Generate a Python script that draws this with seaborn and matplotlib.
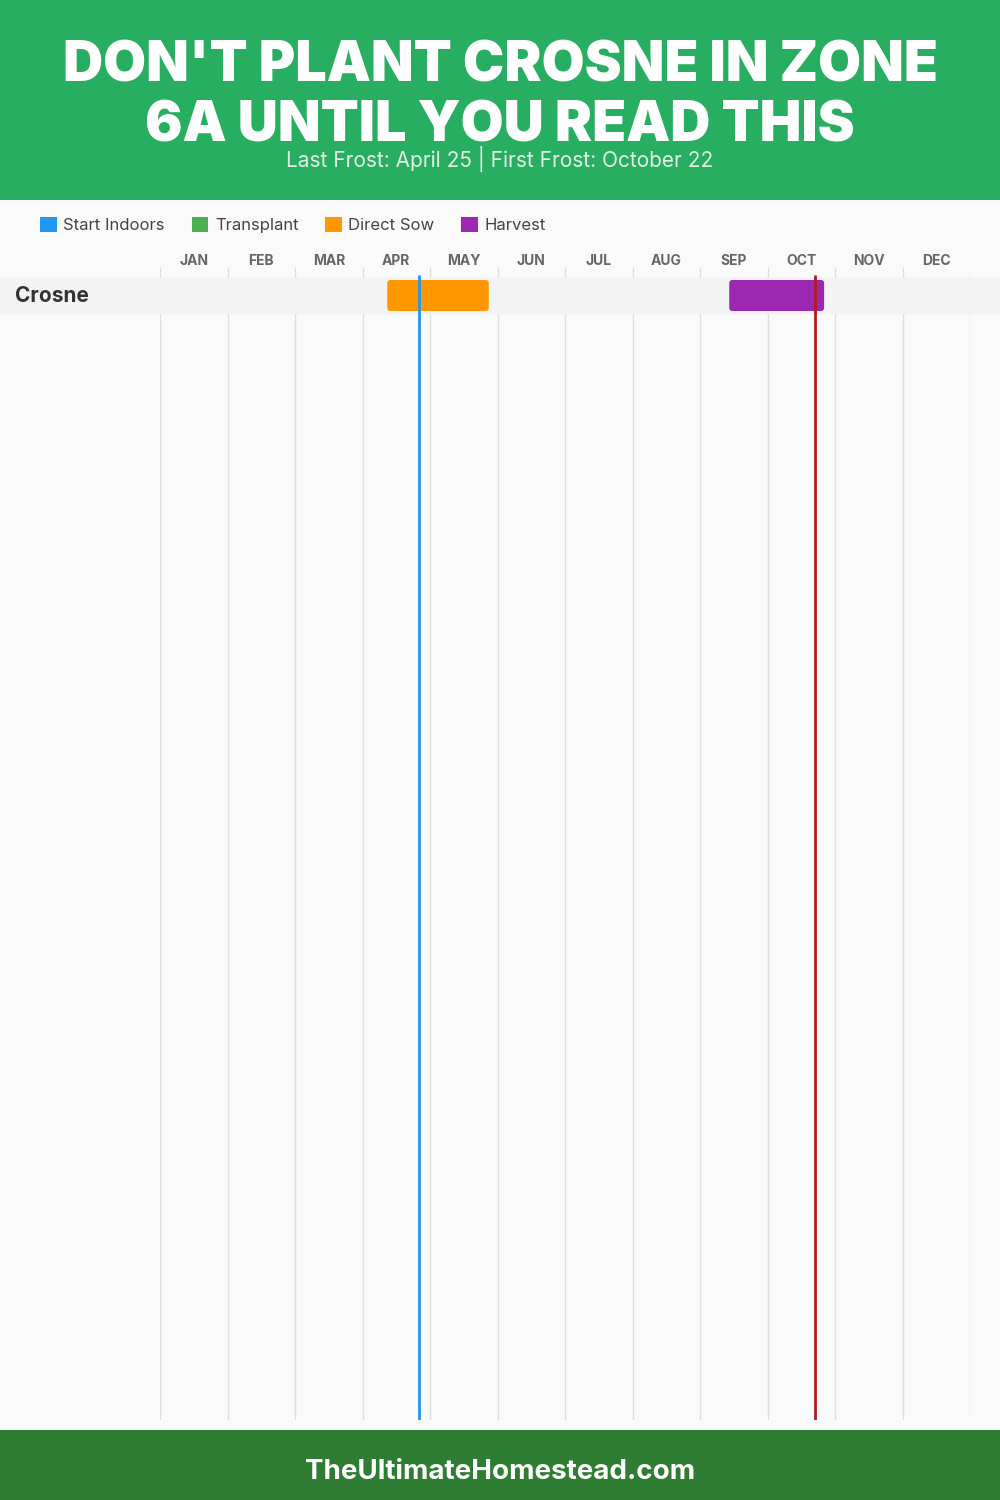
import matplotlib
matplotlib.use("Agg")
import matplotlib.pyplot as plt
import seaborn as sns
import pandas as pd
from matplotlib.patches import FancyBboxPatch, Patch, Rectangle

TITLE_LINES = ["DON'T PLANT CROSNE IN ZONE", "6A UNTIL YOU READ THIS"]
SUBTITLE = "Last Frost: April 25 | First Frost: October 22"
FOOTER = "TheUltimateHomestead.com"

months = ["JAN", "FEB", "MAR", "APR", "MAY", "JUN",
          "JUL", "AUG", "SEP", "OCT", "NOV", "DEC"]
days_in_month = [31, 28, 31, 30, 31, 30, 31, 31, 30, 31, 30, 31]

legend_labels = ["Start Indoors", "Transplant", "Direct Sow", "Harvest"]
legend_colors = ["#2196f3", "#4caf50", "#ff9800", "#9c27b0"]

# crop schedule: (crop, activity, start month, start day, end month, end day)
crops = ["Crosne"]
activity = ["Direct Sow", "Harvest"]
start_month = [4, 9]
start_day = [11, 13]
end_month = [5, 10]
end_day = [27, 26]

last_frost = (4, 25)
first_frost = (10, 22)


def to_pos(month, day):
    # month index (1-12) + day -> continuous month position 0..12
    return (month - 1) + day / days_in_month[month - 1]


schedule = pd.DataFrame({
    "crop": ["Crosne", "Crosne"],
    "activity": activity,
    "start": [to_pos(m, d) for m, d in zip(start_month, start_day)],
    "end": [to_pos(m, d) for m, d in zip(end_month, end_day)],
})

sns.set_theme(style="white")
plt.rcParams["font.family"] = ["Inter", "DejaVu Sans"]

W, H = 1000, 1500
fig = plt.figure(figsize=(10, 15), dpi=100)
fig.patch.set_facecolor("#fafafa")

# header and footer bands
fig.patches.append(Rectangle((0, 1 - 200 / H), 1, 200 / H, transform=fig.transFigure,
                             facecolor="#27ae60", edgecolor="none", zorder=0))
fig.patches.append(Rectangle((0, 0), 1, 70 / H, transform=fig.transFigure,
                             facecolor="#2e7d32", edgecolor="none", zorder=0))

fig.text(0.5, 1 - 66 / H, TITLE_LINES[0], ha="center", va="center", color="white",
         fontsize=40, fontweight="black")
fig.text(0.5, 1 - 126 / H, TITLE_LINES[1], ha="center", va="center", color="white",
         fontsize=40, fontweight="black")
fig.text(0.5, 1 - 159 / H, SUBTITLE, ha="center", va="center", color="#e3f1e6",
         fontsize=15)
fig.text(0.5, 1 - 1472 / H, FOOTER, ha="center", va="center", color="white",
         fontsize=20, fontweight="bold")

# chart area
ax_left, ax_right = 160, 970
ax_top, ax_bottom = 267, 1420
ax = fig.add_axes([ax_left / W, 1 - ax_bottom / H, (ax_right - ax_left) / W,
                   (ax_bottom - ax_top) / H])
ax.set_facecolor("none")
row_px = 35
row0_center = 295.5
ax.set_xlim(0, 12)
ax.set_ylim((ax_bottom - row0_center) / row_px, (ax_top - row0_center) / row_px)
for s in ax.spines.values():
    s.set_visible(False)

# month gridlines
ax.vlines(range(13), *ax.get_ylim(), color="#dddddd", linewidth=1, zorder=1)

# month labels on top
ax.xaxis.tick_top()
ax.set_xticks([i + 0.5 for i in range(12)])
ax.set_xticklabels(months, fontsize=10, fontweight="bold", color="#666666")
ax.tick_params(axis="x", length=0, pad=-1)
ax.set_yticks([])

color_map = dict(zip(legend_labels, legend_colors))
px_per_x = (ax_right - ax_left) / 12
for i, crop in enumerate(crops):
    # row band across full width
    ax.axhspan(i - 0.5, i + 0.5, xmin=-ax_left / (ax_right - ax_left),
               xmax=(W - ax_left) / (ax_right - ax_left), color="#f3f3f3",
               zorder=2, clip_on=False)
    fig.text(15 / W, 1 - (row0_center + 1 + i * row_px) / H, crop, ha="left",
             va="center", fontsize=15, fontweight="bold", color="#333333")
    rows = schedule[schedule["crop"] == crop]
    for _, r in rows.iterrows():
        bh = 31 / row_px
        r_x = 3 / px_per_x
        box = FancyBboxPatch((r["start"], i - bh / 2), r["end"] - r["start"], bh,
                             boxstyle=f"round,pad=0,rounding_size={r_x}",
                             mutation_aspect=px_per_x / row_px,
                             facecolor=color_map[r["activity"]], edgecolor="none",
                             zorder=3)
        ax.add_patch(box)

# frost lines
top_y = (275 - row0_center) / row_px
ax.vlines(to_pos(*last_frost), ax.get_ylim()[0], top_y, color="#2196f3",
          linewidth=2, zorder=4)
ax.vlines(to_pos(*first_frost), ax.get_ylim()[0], top_y, color="#b01c1c",
          linewidth=2, zorder=4)

# legend
handles = [Patch(facecolor=c, edgecolor="none", label=l)
           for l, c in zip(legend_labels, legend_colors)]
fig.legend(handles=handles, loc="center left", bbox_to_anchor=(25 / W, 1 - 225 / H),
           ncol=4, frameon=False, fontsize=12, handlelength=1.0, handleheight=1.0,
           handletextpad=0.4, columnspacing=1.6, labelcolor="#444444")

fig.savefig("out.png", dpi=100, facecolor=fig.get_facecolor())
